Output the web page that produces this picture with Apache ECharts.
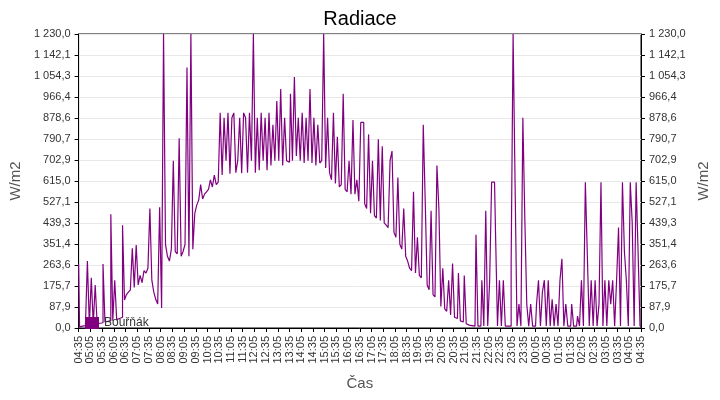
<!DOCTYPE html>
<html lang="cs">
<head>
<meta charset="UTF-8">
<title>Radiace</title>
<script src="https://cdn.jsdelivr.net/npm/echarts@6/dist/echarts.min.js"></script>
</head>
<body style="margin:0">
<div id="main" style="width:720px;height:400px;"></div>
<script type="text/javascript">
// 5minutove hodnoty od 04:35 do 04:35 dalsiho dne
var radiace = [
  270,5,8,10,12,280,
  12,210,15,180,18,20,
  22,268,25,28,30,476,
  30,200,35,40,45,430,
  117,140,150,160,334,170,
  347,180,220,190,240,230,
  250,500,200,150,120,100,
  505,84,1230,350,300,280,
  330,700,320,310,794,300,
  320,350,1090,300,1230,330,
  480,514,535,600,540,560,
  570,580,620,590,640,600,
  610,900,640,880,700,900,
  645,880,900,650,700,880,
  648,900,880,650,900,700,
  1230,650,880,660,900,700,
  880,660,900,680,850,700,
  950,700,1000,680,880,700,
  694,980,700,1050,720,880,
  700,900,690,880,700,1000,
  690,880,680,850,690,700,
  1230,669,880,650,620,900,
  605,800,590,600,980,580,
  570,700,560,870,560,620,
  530,860,860,520,500,810,
  480,700,470,460,790,450,
  760,440,430,420,700,740,
  400,380,630,350,330,500,
  300,280,250,240,570,230,
  380,220,210,850,530,180,
  160,490,140,130,680,500,
  90,250,80,70,200,55,
  270,45,40,230,30,25,
  220,18,12,10,8,8,
  390,8,8,200,8,490,
  8,200,610,610,400,8,
  200,8,200,8,8,8,
  270,1230,610,8,100,8,
  880,460,100,8,100,8,
  8,100,200,8,150,200,
  8,200,8,120,8,100,
  8,200,290,8,100,8,
  8,100,8,8,50,8,
  200,8,610,310,8,200,
  8,200,8,100,610,8,
  200,8,200,100,200,8,
  200,420,8,610,320,200,
  8,610,440,8,610,320,
  8
];
var yMax = 1230;
var yStep = 1230 / 14;

var casy = [];
for (var i = 0; i < radiace.length; i++) {
  var m = (4 * 60 + 35 + i * 5) % (24 * 60);
  var h = Math.floor(m / 60), mm = m % 60;
  casy.push((h < 10 ? '0' : '') + h + ':' + (mm < 10 ? '0' : '') + mm);
}

function fmt(v) {
  var s = v.toFixed(1).replace('.', ',');
  var parts = s.split(',');
  parts[0] = parts[0].replace(/\B(?=(\d{3})+(?!\d))/g, ' ');
  return parts.join(',');
}

var yAxisCfg = function (pos) {
  return {
    type: 'value', position: pos, min: 0, max: yMax, interval: yStep,
    name: 'W/m2', nameLocation: 'middle', nameGap: 52,
    nameTextStyle: { fontSize: 15, color: '#555', fontFamily: 'Arial, Liberation Sans' },
    axisLine: { show: true, lineStyle: { color: '#000' } },
    axisTick: { show: true, length: 4, lineStyle: { color: '#000' } },
    axisLabel: { formatter: fmt, fontSize: 11, color: '#333', fontFamily: 'Arial, Liberation Sans' },
    splitLine: { show: pos == 'left', lineStyle: { color: '#e8e8e8' } }
  };
};

var myChart = echarts.init(document.getElementById('main'));
myChart.setOption({
  animation: false,
  title: { text: 'Radiace', left: 'center', top: 4,
    textStyle: { fontSize: 20, fontWeight: 'normal', color: '#000', fontFamily: 'Arial, Liberation Sans' } },
  legend: { left: 80, top: 312, icon: 'rect', itemWidth: 14, itemHeight: 12, itemGap: 4,
    textStyle: { fontSize: 12, color: '#333', fontFamily: 'Arial, Liberation Sans' }, data: ['Bouřňák'] },
  grid: { left: 75, right: 79, top: 34, bottom: 72, show: true, borderColor: '#000', borderWidth: 1 },
  xAxis: {
    type: 'category', data: casy, boundaryGap: false,
    name: 'Čas', nameLocation: 'middle', nameGap: 48,
    nameTextStyle: { fontSize: 15, color: '#555', fontFamily: 'Arial, Liberation Sans' },
    axisLine: { lineStyle: { color: '#000' } },
    axisTick: { interval: 5, length: 4, lineStyle: { color: '#000' } },
    axisLabel: { interval: 5, rotate: 90, fontSize: 11, color: '#333', fontFamily: 'Arial, Liberation Sans' },
    splitLine: { show: false }
  },
  yAxis: [yAxisCfg('left'), yAxisCfg('right')],
  series: [{
    name: 'Bouřňák', type: 'line', step: 'middle', data: radiace, showSymbol: false, symbol: 'none',
    lineStyle: { color: '#800080', width: 1.2 }, itemStyle: { color: '#800080' }
  }]
});
</script>
</body>
</html>
